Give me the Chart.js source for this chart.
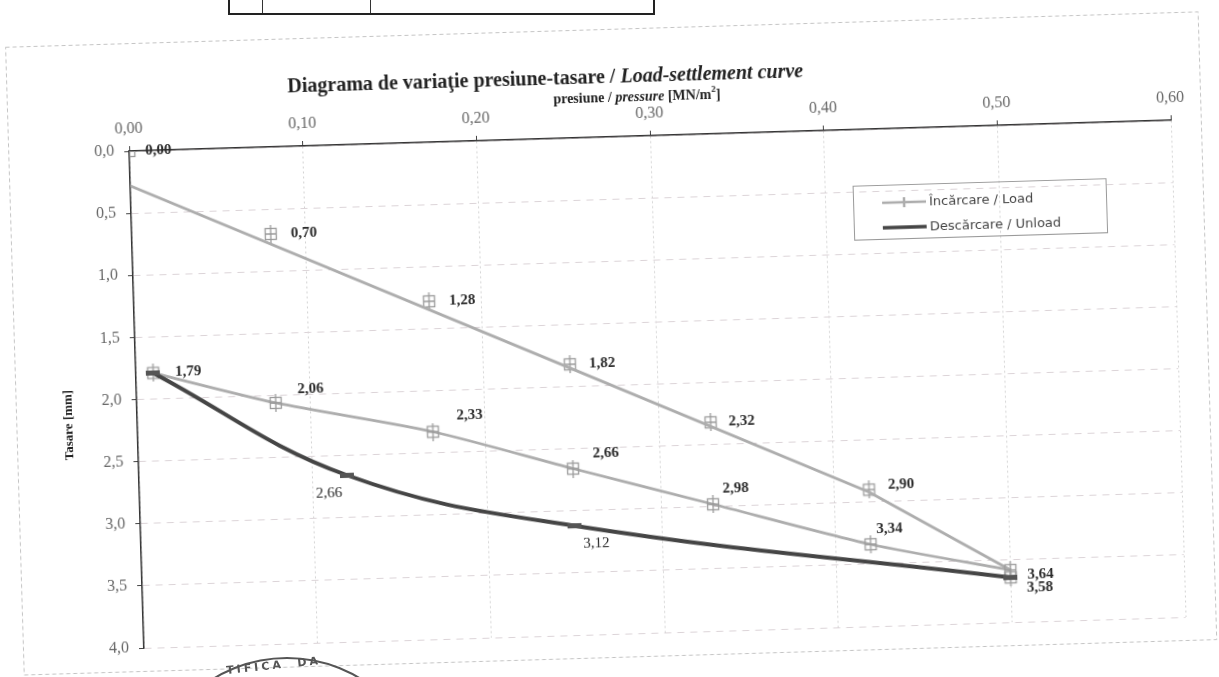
<!DOCTYPE html>
<html>
<head>
<meta charset="utf-8">
<script src="https://cdn.jsdelivr.net/npm/chart.js@4.4.1/dist/chart.umd.min.js"></script>
<style>
html, body { margin: 0; padding: 0; background: #fff; width: 1219px; height: 677px; overflow: hidden; }
#sheet { position: absolute; left: 0; top: 0; width: 1219px; height: 677px; transform: rotate(-1.7deg); transform-origin: 609px 338px; }
#chart { position: absolute; left: 0; top: 0; }
#legend { position: absolute; left: 857px; top: 193px; width: 254px; height: 55px; box-sizing: border-box;
  border: 1px solid #9a9a9a; font: 13px "DejaVu Sans", sans-serif; color: #444; padding: 4px 0 0 28px; }
#legend .row { height: 25px; display: flex; align-items: center; }
#legend canvas { margin-right: 3px; }
#table { position: absolute; left: 228px; top: -20px; width: 427px; height: 35px; box-sizing: border-box; border: 2px solid #222; border-top: none; }
#table div { position: absolute; top: 0; bottom: 0; border-left: 1.5px solid #333; }
#stamp { position: absolute; left: 144px; top: 657px; width: 286px; height: 286px; border-radius: 50%; border: 2.5px solid #555; box-sizing: border-box; }
#stampText { position: absolute; left: 226px; top: 659px; font: bold 11px "DejaVu Sans", sans-serif; color: #555; letter-spacing: 3px; transform: rotate(-6deg); }
</style>
</head>
<body>
<div id="sheet">
  <canvas id="chart" width="1219" height="677"></canvas>
  <div id="legend">
    <div class="row"><canvas id="lgLoad" width="44" height="14"></canvas>Încărcare / Load</div>
    <div class="row"><canvas id="lgUnload" width="44" height="14"></canvas>Descărcare / Unload</div>
  </div>
</div>
<div id="table"><div style="left:32px"></div><div style="left:140px"></div></div>
<div id="stamp"></div>
<div id="stampText">TIFICA&nbsp;&nbsp;DA</div>
<script>
// presiune [MN/m2] si tasare [mm]
const loadP = [0.00, 0.08, 0.17, 0.25, 0.33, 0.42, 0.50];
const loadS = [0.00, 0.70, 1.28, 1.82, 2.32, 2.90, 3.64];
const loadLineP = [0.00, 0.25, 0.42, 0.50];
const loadLineS = [0.28, 1.85, 2.92, 3.58];
const reloadP = [0.01, 0.08, 0.17, 0.25, 0.33, 0.42, 0.50];
const reloadS = [1.79, 2.06, 2.33, 2.66, 2.98, 3.34, 3.58];
const unloadP = [0.01, 0.12, 0.25, 0.50];
const unloadS = [1.79, 2.66, 3.12, 3.64];
const xTicks = [0, 0.1, 0.2, 0.3, 0.4, 0.5, 0.6];
const yTicks = [0, 0.5, 1, 1.5, 2, 2.5, 3, 3.5, 4];

const LIGHT = '#adadad';
const DARK = '#454545';
const SERIF = '"Liberation Serif", "Times New Roman", serif';

const pts = (xs, ys) => xs.map((x, i) => ({ x: x, y: ys[i] }));
const comma = (v, d) => v.toFixed(d).replace('.', ',');

// marker: patrat + cruce
function makeMarker() {
    const c = document.createElement('canvas');
    c.width = 18; c.height = 18;
    const g = c.getContext('2d');
    g.strokeStyle = '#9a9a9a';
    g.lineWidth = 1.3;
    g.strokeRect(3.5, 3.5, 11, 11);
    g.beginPath();
    g.moveTo(9, 0); g.lineTo(9, 18);
    g.moveTo(4, 9); g.lineTo(14, 9);
    g.stroke();
    return c;
}
function makeDarkMarker() {
    const c = document.createElement('canvas');
    c.width = 14; c.height = 7;
    const g = c.getContext('2d');
    g.fillStyle = '#555';
    g.fillRect(0, 1, 14, 5);
    return c;
}
const marker = makeMarker();
const darkMarker = makeDarkMarker();

// legenda
(function () {
    let g = document.getElementById('lgLoad').getContext('2d');
    g.strokeStyle = LIGHT; g.lineWidth = 2.5;
    g.beginPath(); g.moveTo(0, 7); g.lineTo(44, 7); g.moveTo(22, 2); g.lineTo(22, 12); g.stroke();
    g = document.getElementById('lgUnload').getContext('2d');
    g.strokeStyle = DARK; g.lineWidth = 3.5;
    g.beginPath(); g.moveTo(0, 7); g.lineTo(44, 7); g.stroke();
})();

const labelsPlugin = {
    id: 'pointLabels',
    afterDatasetsDraw(chart) {
        const ctx = chart.ctx;
        chart.data.datasets.forEach((ds, i) => {
            if (!ds.labelPos) return;
            const meta = chart.getDatasetMeta(i);
            meta.data.forEach((el, j) => {
                const off = ds.labelPos[j];
                if (!off) return;
                ctx.save();
                ctx.font = ds.labelFont;
                ctx.fillStyle = '#2b2b2b';
                ctx.textAlign = 'left';
                ctx.textBaseline = 'middle';
                ctx.fillText(comma(ds.data[j].y, 2), el.x + off[0], el.y + off[1]);
                ctx.restore();
            });
        });
    }
};

function drawRuns(ctx, runs, cx, cy) {
    let total = 0;
    runs.forEach(r => { ctx.font = r.font; r.w = ctx.measureText(r.t).width; total += r.w; });
    let x = cx - total / 2;
    runs.forEach(r => {
        ctx.font = r.font;
        ctx.fillText(r.t, x, cy + (r.dy || 0));
        x += r.w;
    });
}

const framePlugin = {
    id: 'frame',
    beforeDraw(chart) {
        const ctx = chart.ctx;
        ctx.save();
        ctx.fillStyle = '#fff';
        ctx.fillRect(0, 0, chart.width, chart.height);
        ctx.strokeStyle = '#c4c4c4';
        ctx.lineWidth = 1;
        ctx.setLineDash([4, 3]);
        ctx.strokeRect(14.5, 29.5, 1193, 628);
        ctx.restore();
    },
    afterDraw(chart) {
        const ctx = chart.ctx;
        ctx.save();
        ctx.fillStyle = '#222';
        ctx.textAlign = 'left';
        ctx.textBaseline = 'middle';
        drawRuns(ctx, [
            { t: 'Diagrama de variaţie presiune-tasare / ', font: 'bold 20px ' + SERIF },
            { t: 'Load-settlement curve', font: 'italic bold 20px ' + SERIF }
        ], 553, 78);
        drawRuns(ctx, [
            { t: 'presiune / ', font: 'bold 14px ' + SERIF },
            { t: 'pressure', font: 'italic bold 14px ' + SERIF },
            { t: ' [MN/m', font: 'bold 14px ' + SERIF },
            { t: '2', font: 'bold 9px ' + SERIF, dy: -5 },
            { t: ']', font: 'bold 14px ' + SERIF }
        ], 644, 98);
        ctx.translate(67, 409);
        ctx.rotate(-Math.PI / 2);
        ctx.textAlign = 'center';
        ctx.font = 'bold 13px ' + SERIF;
        ctx.fillText('Tasare [mm]', 0, 0);
        ctx.restore();
    }
};

const PAD_L = 20, PAD_T = 20;

new Chart(document.getElementById('chart'), {
    type: 'scatter',
    data: {
        datasets: [
            {
                label: 'Descărcare / Unload',
                data: pts(unloadP, unloadS),
                showLine: true,
                borderColor: DARK,
                borderWidth: 4,
                tension: 0.4,
                pointStyle: darkMarker,
                labelFont: '15px ' + SERIF,
                labelPos: [null, [-32, 18], [8, 18], null]
            },
            {
                label: 'reload',
                data: pts(reloadP, reloadS),
                showLine: true,
                borderColor: LIGHT,
                borderWidth: 2.8,
                tension: 0.25,
                pointStyle: marker,
                labelFont: 'bold 15px ' + SERIF,
                labelPos: [[22, 0], [22, -13], [24, -15], [20, -14], [10, -15], [6, -15], [16, 18]]
            },
            {
                label: 'Încărcare / Load',
                data: pts(loadLineP, loadLineS),
                showLine: true,
                borderColor: LIGHT,
                borderWidth: 2.8,
                pointRadius: 0
            },
            {
                label: 'load points',
                data: pts(loadP, loadS),
                showLine: false,
                pointStyle: marker,
                labelFont: 'bold 15px ' + SERIF,
                labelPos: [[16, 0], [20, 0], [20, 0], [19, 0], [18, 0], [19, -4], [17, -2]]
            }
        ]
    },
    options: {
        responsive: false,
        animation: false,
        events: [],
        layout: { padding: { left: PAD_L, top: PAD_T, right: 42, bottom: 43 } },
        plugins: { legend: { display: false }, tooltip: { enabled: false }, title: { display: false } },
        scales: {
            x: {
                type: 'linear',
                position: 'top',
                min: 0,
                max: 0.6,
                afterFit: s => { s.height = 137 - PAD_T; },
                afterBuildTicks: s => { s.ticks = xTicks.map(v => ({ value: v })); },
                ticks: {
                    callback: v => comma(v, 2),
                    font: { family: SERIF, size: 16 },
                    color: '#666',
                    padding: 8,
                    maxRotation: 0
                },
                grid: { color: '#d2d2d2', lineWidth: 1, tickLength: 5, tickColor: '#444' },
                border: { display: true, color: '#333', width: 1.5, dash: [2, 3] }
            },
            y: {
                type: 'linear',
                reverse: true,
                min: 0,
                max: 4,
                afterFit: s => { s.width = 135 - PAD_L; },
                afterBuildTicks: s => { s.ticks = yTicks.map(v => ({ value: v })); },
                ticks: {
                    callback: v => comma(v, 1),
                    font: { family: SERIF, size: 16 },
                    color: '#666',
                    padding: 10
                },
                grid: { color: '#dcd4d8', lineWidth: 1, tickLength: 5, tickColor: '#444' },
                border: { display: true, color: '#333', width: 1.5, dash: [7, 6] }
            }
        }
    },
    plugins: [framePlugin, labelsPlugin]
});
</script>
</body>
</html>
